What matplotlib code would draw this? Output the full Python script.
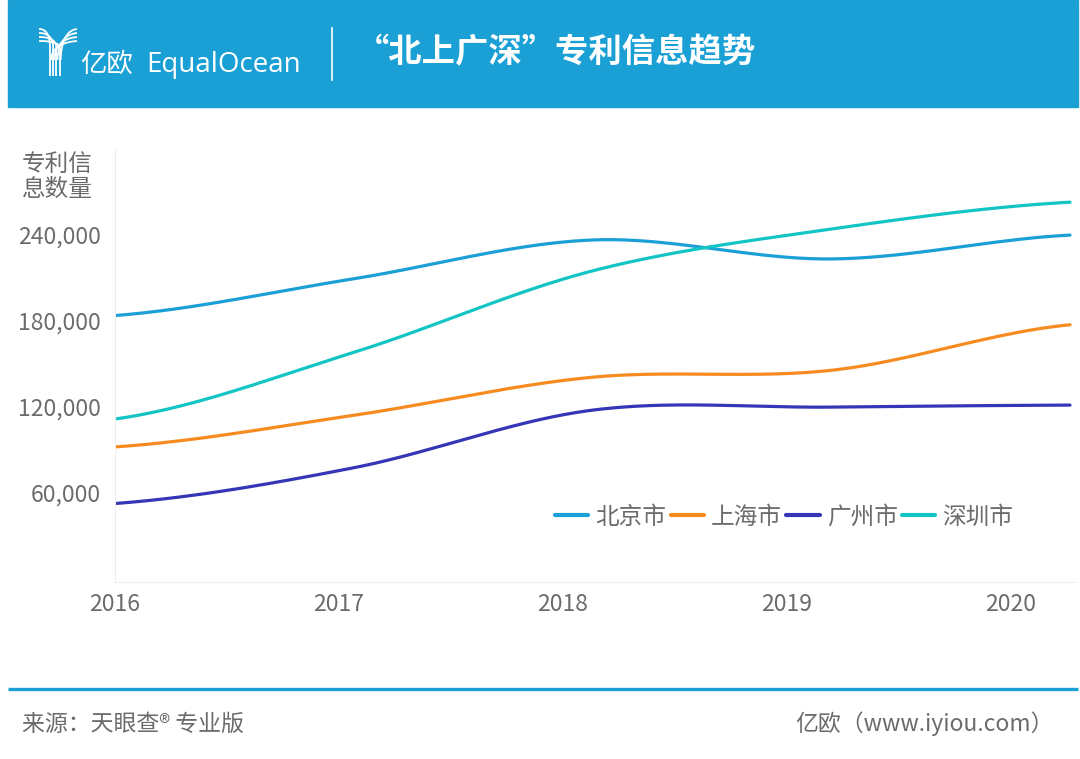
import matplotlib
matplotlib.use("Agg")
import matplotlib.pyplot as plt
import numpy as np
from matplotlib.patches import Rectangle

plt.rcParams['font.family'] = ['Noto Sans CJK SC', 'DejaVu Sans']

# data
cities = ['北京市', '上海市', '广州市', '深圳市']
years = ['2016', '2017', '2018', '2019', '2020']
beijing = [183400, 209000, 236000, 222800, 239400]
shanghai = [92000, 114000, 140500, 145300, 177000]
guangzhou = [52600, 77500, 117600, 119700, 121100]
shenzhen = [111400, 157800, 214500, 243600, 262300]
yticks = [60000, 120000, 180000, 240000]

colors = ['#1a9fd6', '#f78b1f', '#3535b8', '#12c4c4']
grey = '#6b6b6b'
W, H = 1080, 759


def smooth(ys, n=60):
    # catmull-rom style curve through the points (like echarts smooth)
    ys = np.asarray(ys, dtype=float)
    m = len(ys)
    t = np.zeros(m)
    t[1:-1] = (ys[2:] - ys[:-2]) / 2
    t[0] = (ys[1] - ys[0]) * 0.5
    t[-1] = (ys[-1] - ys[-2]) * 0.5
    xo, yo = [], []
    for i in range(m - 1):
        s = np.linspace(0, 1, n)
        h00 = 2 * s**3 - 3 * s**2 + 1
        h10 = s**3 - 2 * s**2 + s
        h01 = -2 * s**3 + 3 * s**2
        h11 = s**3 - s**2
        xo.append(i + s)
        yo.append(h00 * ys[i] + h10 * t[i] + h01 * ys[i + 1] + h11 * t[i + 1])
    return np.concatenate(xo), np.concatenate(yo)


fig = plt.figure(figsize=(W / 100, H / 100), dpi=100)

# overlay axes in pixel coords for header / footer
bg = fig.add_axes([0, 0, 1, 1])
bg.set_xlim(0, W)
bg.set_ylim(H, 0)
bg.axis('off')
bg.add_patch(Rectangle((8, 0), 1070, 107, color='#1ba0d6', zorder=0))

# logo: stylised Y made of stripes
bx = np.linspace(0, 1, 30)
for k in range(4):
    xl = 50 + 3.2 * k
    # left branch
    px = (1 - bx)**2 * 39 + 2 * (1 - bx) * bx * xl + bx**2 * xl
    py = (1 - bx)**2 * (29 + 4 * k) + 2 * (1 - bx) * bx * (29 + 4 * k) + bx**2 * 48
    bg.plot(px, py, color='white', lw=1.3, solid_capstyle='butt')
    bg.plot([xl, xl], [48, 76], color='white', lw=1.3, solid_capstyle='butt')
    # right branch
    px = (1 - bx)**2 * 77 + 2 * (1 - bx) * bx * (xl + 2) + bx**2 * (xl + 1)
    py = (1 - bx)**2 * (29 + 4 * (3 - k)) + 2 * (1 - bx) * bx * (31 + 4 * (3 - k)) + bx**2 * 60
    bg.plot(px, py, color='white', lw=1.3, solid_capstyle='butt')

bg.text(80, 64, '亿欧', color='white', fontsize=19, va='center', ha='left')
bg.text(146, 65, 'EqualOcean', color='white', fontsize=20, va='center', ha='left',
        family=['Open Sans', 'DejaVu Sans'])
bg.plot([332, 332], [28, 80], color='white', lw=1.2)
bg.text(356, 53, '“北上广深”专利信息趋势', color='white', fontsize=24,
        fontweight='bold', va='center', ha='left')

# footer
bg.plot([8, 1078], [689, 689], color='#1ba0d6', lw=2.4, solid_capstyle='butt')
bg.text(22, 724, '来源：天眼查® 专业版', color=grey, fontsize=16.5, va='center', ha='left')
bg.text(1054, 724, '亿欧（www.iyiou.com）', color=grey, fontsize=16.5, va='center', ha='right')

# y axis title
bg.text(57, 177, '专利信\n息数量', color=grey, fontsize=17, va='center', ha='center',
        linespacing=1.1)

# main chart
left, right, top, bottom = 115, 1076, 148, 582
ax = fig.add_axes([left / W, 1 - bottom / H, (right - left) / W, (bottom - top) / H])
ax.patch.set_alpha(0)
unit = (1070 - 115) / 4.0
ax.set_xlim(0, (right - left) / unit)
ax.set_ylim(-2000, 300000)

for vals, name, c in zip([beijing, shanghai, guangzhou, shenzhen], cities, colors):
    xs, ys = smooth(vals)
    ax.plot(xs, ys, color=c, lw=2.3, label=name, solid_capstyle='round')

ax.set_xticks([i * 224 / unit for i in range(len(years))])
ax.set_xticklabels(years)
ax.set_yticks(yticks)
ax.set_yticklabels(['{:,}'.format(v) for v in yticks])
ax.tick_params(length=0, colors=grey, labelsize=16.5)
ax.tick_params(axis='x', pad=8)
ax.tick_params(axis='y', pad=10)
for s in ['top', 'right']:
    ax.spines[s].set_visible(False)
for s in ['left', 'bottom']:
    ax.spines[s].set_color('#eeeeee')
    ax.spines[s].set_linewidth(0.8)

leg = ax.legend(loc='center left', bbox_to_anchor=(555 / W, 1 - 517 / H),
                bbox_transform=fig.transFigure, ncol=4, frameon=False,
                fontsize=17, handlelength=1.4, handletextpad=0.3,
                columnspacing=0.2, borderpad=0, borderaxespad=0)
for line in leg.get_lines():
    line.set_linewidth(3)
for t in leg.get_texts():
    t.set_color(grey)

fig.savefig('out.png', dpi=100)
